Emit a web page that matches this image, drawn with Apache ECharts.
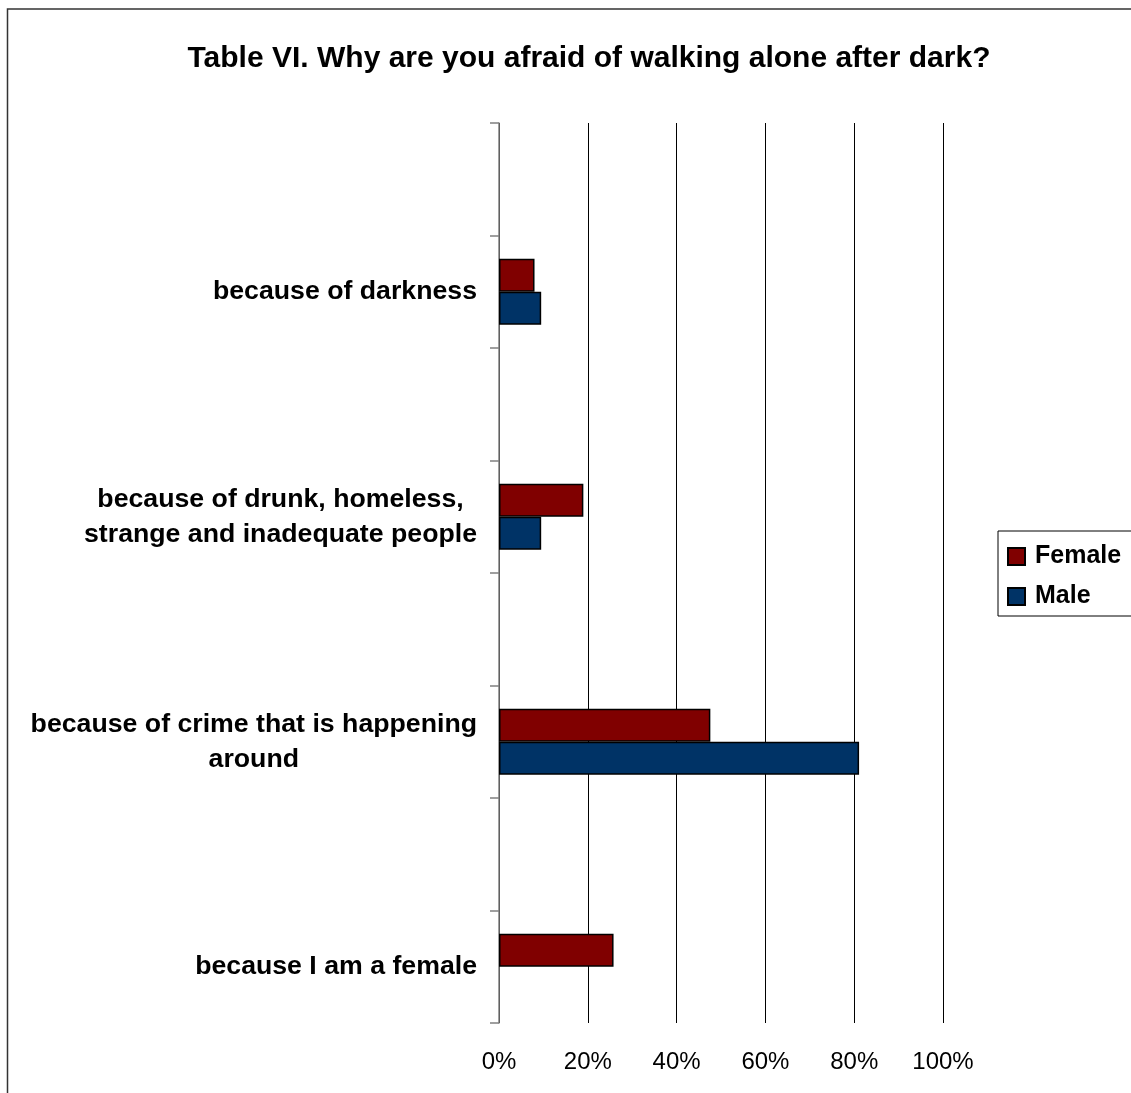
<!DOCTYPE html>
<html>
<head>
<meta charset="utf-8">
<script src="https://cdn.jsdelivr.net/npm/echarts@6/dist/echarts.min.js"></script>
<style>
html,body{margin:0;padding:0;background:#fff;}
#chart{width:1131px;height:1093px;}
</style>
</head>
<body>
<div id="chart"></div>
<script>
var titleText = 'Table VI. Why are you afraid of walking alone after dark?';
var categories = [
  '',
  'because of darkness',
  '',
  'because of drunk, homeless,\nstrange and inadequate people',
  '',
  'because of crime that is happening\naround',
  '',
  'because I am a female'
];
var seriesNames = ['Female', 'Male'];
var femaleValues = [null, 8, null, 19, null, 47.6, null, 25.8];
var maleValues = [null, 9.5, null, 9.5, null, 81.1, null, null];
var xTicks = [0, 20, 40, 60, 80, 100];

var FONT = '"Liberation Sans", Arial, sans-serif';
var chart = echarts.init(document.getElementById('chart'));
chart.setOption({
  backgroundColor: '#ffffff',
  animation: false,
  textStyle: { fontFamily: FONT },
  title: {
    text: titleText,
    left: 584,
    textAlign: 'center',
    top: 39,
    textStyle: { fontSize: 30, fontWeight: 'bold', color: '#000', fontFamily: FONT }
  },
  graphic: [{
    type: 'rect',
    shape: { x: 7.5, y: 9, width: 1300, height: 1300 },
    style: { fill: 'none', stroke: '#333', lineWidth: 1.5 },
    silent: true,
    z: -1
  }],
  legend: {
    orient: 'vertical',
    left: 998,
    top: 531,
    padding: [13, 30, 7, 9],
    itemWidth: 17,
    itemHeight: 17,
    itemGap: 15,
    icon: 'rect',
    borderColor: '#000',
    borderWidth: 1,
    data: seriesNames,
    textStyle: { fontSize: 25, fontWeight: 'bold', color: '#000', lineHeight: 25, fontFamily: FONT, padding: [0, 0, 0, 5] }
  },
  grid: { left: 499, right: 188, top: 123, bottom: 70, containLabel: false },
  xAxis: {
    type: 'value',
    min: xTicks[0],
    max: xTicks[xTicks.length - 1],
    interval: 20,
    axisLine: { show: false },
    axisTick: { show: false },
    splitLine: { show: true, lineStyle: { color: '#000', width: 1 } },
    axisLabel: { formatter: '{value}%', fontSize: 24, color: '#000', margin: 27, fontFamily: FONT }
  },
  yAxis: {
    type: 'category',
    inverse: true,
    data: categories,
    axisLine: { show: true, lineStyle: { color: '#808080', width: 1.5 } },
    axisTick: { show: true, interval: 0, alignWithLabel: false, length: 9, lineStyle: { color: '#808080', width: 1.5 } },
    splitLine: { show: false },
    axisLabel: {
      interval: 0,
      margin: 22,
      align: 'right',
      formatter: function (v) {
        if (!v) return '';
        return v.split('\n').map(function (l) { return '{c|' + l + '}'; }).join('\n');
      },
      rich: {
        c: { align: 'center', fontSize: 26.7, fontWeight: 'bold', color: '#000', lineHeight: 35, fontFamily: FONT }
      }
    }
  },
  series: [
    {
      name: seriesNames[0],
      type: 'bar',
      data: femaleValues,
      barWidth: 33,
      barGap: '0%',
      itemStyle: { color: '#800000', borderColor: '#000', borderWidth: 1.5 }
    },
    {
      name: seriesNames[1],
      type: 'bar',
      data: maleValues,
      barWidth: 33,
      barGap: '0%',
      itemStyle: { color: '#003366', borderColor: '#000', borderWidth: 1.5 }
    }
  ]
});
</script>
</body>
</html>
